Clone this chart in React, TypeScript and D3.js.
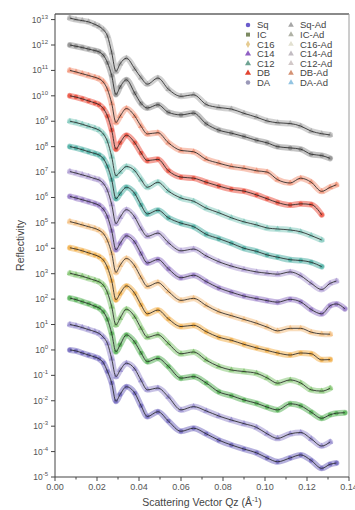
import React from 'react';
import * as d3 from 'd3';

// ---- data (log10 of reflectivity, curves offset for clarity) ----
const Q = [0.0071, 0.010, 0.013, 0.016, 0.019, 0.021, 0.023, 0.025, 0.027, 0.029, 0.031, 0.034, 0.038, 0.041, 0.044, 0.049, 0.054, 0.060, 0.066, 0.072, 0.078, 0.084, 0.090, 0.096, 0.101, 0.106, 0.112, 0.117, 0.122, 0.127, 0.131, 0.134, 0.138];

const Sq = [0, -0.04, -0.12, -0.2, -0.28, -0.35, -0.5, -0.85, -1.3, -2.02, -1.75, -1.45, -1.7, -2.2, -2.62, -2.43, -2.8, -3.2, -3.08, -3.3, -3.55, -3.74, -3.9, -4.05, -4.25, -4.4, -4.25, -4.13, -4.35, -4.66, -4.5, -4.45];
const SqAd = [1.0, 0.95, 0.88, 0.8, 0.72, 0.65, 0.5, 0.25, -0.35, -1.05, -0.8, -0.52, -0.75, -1.2, -1.57, -1.5, -1.85, -2.36, -2.23, -2.4, -2.6, -2.76, -2.9, -3.05, -3.3, -3.48, -3.3, -3.25, -3.5, -3.78, -3.62];
const IC = [2.04, 1.98, 1.9, 1.82, 1.72, 1.65, 1.5, 1.2, 0.65, -0.07, 0.2, 0.59, 0.3, -0.12, -0.46, -0.33, -0.65, -1.11, -1.05, -1.3, -1.65, -1.8, -1.97, -2.1, -2.25, -2.36, -2.12, -2.2, -2.45, -2.69, -2.55, -2.49, -2.47];
const ICAd = [3.02, 2.96, 2.9, 2.82, 2.74, 2.68, 2.55, 2.25, 1.7, 0.98, 1.25, 1.6, 1.3, 0.85, 0.5, 0.6, 0.25, -0.15, -0.08, -0.4, -0.65, -0.79, -0.85, -0.92, -1.1, -1.31, -1.18, -1.3, -1.57, -1.62, -1.51];
const C16 = [4.02, 3.97, 3.9, 3.82, 3.74, 3.67, 3.54, 3.24, 2.72, 1.97, 2.22, 2.52, 2.22, 1.77, 1.42, 1.57, 1.22, 0.92, 0.97, 0.72, 0.5, 0.38, 0.22, 0.08, -0.02, -0.12, -0.2, -0.12, -0.15, -0.39, -0.38];
const C16Ad = [5.05, 4.99, 4.92, 4.85, 4.78, 4.71, 4.58, 4.3, 3.8, 3.05, 3.33, 3.6, 3.3, 2.85, 2.5, 2.65, 2.3, 1.95, 2.03, 1.75, 1.5, 1.35, 1.2, 1.05, 0.9, 0.75, 0.85, 0.85, 0.7, 0.63, 0.62];
const C14 = [6.04, 5.98, 5.91, 5.84, 5.76, 5.69, 5.54, 5.24, 4.69, 3.94, 4.19, 4.49, 4.24, 3.79, 3.42, 3.56, 3.19, 2.84, 2.94, 2.69, 2.44, 2.27, 2.12, 2.02, 1.94, 1.88, 1.99, 1.89, 1.59, 1.42, 1.74, 1.81, 1.62];
const C14Ad = [7.02, 6.96, 6.89, 6.82, 6.74, 6.69, 6.55, 6.27, 5.72, 4.97, 5.22, 5.52, 5.22, 4.77, 4.47, 4.6, 4.22, 3.9, 3.97, 3.7, 3.47, 3.3, 3.17, 3.07, 3.02, 2.98, 3.07, 2.92, 2.62, 2.38, 2.62, 2.71];
const C12 = [8.0, 7.95, 7.88, 7.8, 7.73, 7.67, 7.53, 7.22, 6.7, 5.95, 6.15, 6.4, 6.15, 5.7, 5.35, 5.5, 5.2, 4.99, 4.85, 4.55, 4.38, 4.2, 4.0, 3.88, 3.74, 3.65, 3.55, 3.52, 3.45, 3.28];
const C12Ad = [9.0, 8.95, 8.88, 8.8, 8.72, 8.65, 8.5, 8.2, 7.6, 6.85, 7.0, 7.22, 7.05, 6.7, 6.4, 6.6, 6.25, 5.98, 5.85, 5.58, 5.4, 5.2, 5.04, 4.92, 4.8, 4.76, 4.72, 4.65, 4.5, 4.33];
const DB = [10.0, 9.95, 9.88, 9.8, 9.72, 9.65, 9.5, 9.2, 8.65, 7.9, 8.15, 8.45, 8.15, 7.75, 7.45, 7.5, 7.05, 6.8, 6.76, 6.6, 6.45, 6.32, 6.25, 6.1, 5.95, 5.8, 5.7, 5.75, 5.72, 5.32];
const DBAd = [11.0, 10.94, 10.87, 10.8, 10.73, 10.67, 10.54, 10.25, 9.7, 8.95, 9.2, 9.5, 9.2, 8.8, 8.5, 8.55, 8.15, 7.85, 7.8, 7.5, 7.35, 7.22, 7.15, 7.05, 7.0, 6.7, 6.57, 6.76, 6.6, 6.24, 6.4, 6.5];
const DA = [12.0, 11.95, 11.9, 11.84, 11.78, 11.73, 11.6, 11.3, 10.8, 10.05, 10.35, 10.63, 10.1, 9.7, 9.52, 9.65, 9.35, 9.25, 9.32, 8.9, 8.65, 8.53, 8.4, 8.25, 8.15, 8.0, 7.95, 7.9, 7.7, 7.65, 7.54];
const DAAd = [13.06, 13.0, 12.96, 12.91, 12.81, 12.73, 12.6, 12.35, 11.7, 10.96, 11.26, 11.48, 11.06, 10.71, 10.46, 10.7, 10.26, 9.98, 10.04, 9.66, 9.54, 9.48, 9.31, 9.16, 9.01, 8.94, 8.91, 8.81, 8.61, 8.51, 8.46];

const seriesNames = ['Sq', 'Sq-Ad', 'IC', 'IC-Ad', 'C16', 'C16-Ad', 'C14', 'C14-Ad', 'C12', 'C12-Ad', 'DB', 'DB-Ad', 'DA', 'DA-Ad'];
const seriesData = [Sq, SqAd, IC, ICAd, C16, C16Ad, C14, C14Ad, C12, C12Ad, DB, DBAd, DA, DAAd];
const curveColors = ['#5a50b4', '#8478c6', '#3aa53a', '#6fbd5a', '#f0a22c', '#f2b46a', '#8262bc', '#a08ccc', '#2fa294', '#6cc0b2', '#e8321e', '#f08262', '#7c7c7c', '#9a9a9a'];

const legendLeft = ['Sq', 'IC', 'C16', 'C14', 'C12', 'DB', 'DA'];
const legendRight = ['Sq-Ad', 'IC-Ad', 'C16-Ad', 'C14-Ad', 'C12-Ad', 'DB-Ad', 'DA-Ad'];
const legendLeftColors = ['#6a5ccc', '#7c8a62', '#e6cc92', '#9060c4', '#6ea392', '#e24430', '#9a98b8'];
const legendRightColors = ['#a6a6a6', '#b0b2a6', '#e2e0d0', '#c2bcc2', '#d2c8c8', '#d49274', '#92c4e2'];
const legendLeftSymbols = [d3.symbolCircle, d3.symbolSquare, d3.symbolDiamond, d3.symbolTriangle, d3.symbolTriangle, d3.symbolTriangle, d3.symbolCircle];

const yTickExps = [-5, -4, -3, -2, -1, 0, 1, 2, 3, 4, 5, 6, 7, 8, 9, 10, 11, 12, 13];
const xTicks = [0, 0.02, 0.04, 0.06, 0.08, 0.10, 0.12, 0.14];
const xMinorTicks = [0.01, 0.03, 0.05, 0.07, 0.09, 0.11, 0.13];

const W = 355;
const H = 510;
const PL = 55, PR = 349, PT = 14, PB = 477;
const FONT = '"Liberation Sans", Arial, sans-serif';

export default function App() {
  const x = d3.scaleLinear().domain([0, 0.14]).range([PL, PR]);
  const y = d3.scaleLog().domain([1e-5, Math.pow(10, 13.22)]).range([PB, PT]);

  const line = d3.line<number>()
    .x((_, i) => x(Q[i]))
    .y((v) => y(Math.pow(10, v)))
    .curve(d3.curveMonotoneX);

  const sym = d3.symbol();
  const legendStep = 9.6;
  const legendTop = 25;

  return (
    <svg width={W} height={H} style={{ position: 'absolute', left: 0, top: 0, background: '#fff' }} fontFamily={FONT}>
      <defs>
        <clipPath id="plotClip">
          <rect x={PL} y={PT} width={PR - PL} height={PB - PT} />
        </clipPath>
      </defs>

      {/* frame */}
      <line x1={PL} x2={PR} y1={PT} y2={PT} stroke="#8a8a8a" strokeWidth={1.8} />
      <line x1={PR} x2={PR} y1={PT} y2={PB} stroke="#9a9a9a" strokeWidth={1} />

      <g clipPath="url(#plotClip)">
        {/* measured bands */}
        {seriesData.map((d, k) => (
          <path key={'b' + k} d={line(d) || ''} fill="none" stroke={curveColors[k]} strokeWidth={6} strokeOpacity={0.45} strokeLinejoin="round" strokeLinecap="round" />
        ))}
        {seriesData.map((d, k) => (
          <g key={'m' + k} fill={curveColors[k]} fillOpacity={0.6}>
            {d.map((v, i) => (
              <path key={i} transform={`translate(${x(Q[i])},${y(Math.pow(10, v))})`} d={sym.type(k % 2 === 0 ? d3.symbolCircle : d3.symbolTriangle).size(16)() || ''} />
            ))}
          </g>
        ))}
        {/* fits */}
        {seriesData.map((d, k) => (
          <path key={'f' + k} d={line(d) || ''} fill="none" stroke="#222" strokeWidth={0.9} strokeOpacity={0.9} />
        ))}
      </g>

      {/* y axis */}
      <line x1={PL} x2={PL} y1={PT} y2={PB} stroke="#444" strokeWidth={1} />
      {yTickExps.map((e) => {
        const yy = y(Math.pow(10, e));
        return (
          <g key={'yt' + e}>
            <line x1={PL - 4} x2={PL} y1={yy} y2={yy} stroke="#444" strokeWidth={1} />
            <text x={PL - 7} y={yy + 3} textAnchor="end" fontSize={8.5} fill="#555">
              <tspan>10</tspan>
              <tspan dy={-4} fontSize={6}>{e}</tspan>
            </text>
          </g>
        );
      })}

      {/* x axis */}
      <line x1={PL} x2={PR} y1={PB} y2={PB} stroke="#444" strokeWidth={1} />
      {xTicks.map((t) => (
        <g key={'xt' + t}>
          <line x1={x(t)} x2={x(t)} y1={PB} y2={PB + 4} stroke="#444" strokeWidth={1} />
          <text x={x(t)} y={PB + 13} textAnchor="middle" fontSize={9} fill="#555">{t.toFixed(2)}</text>
        </g>
      ))}
      {xMinorTicks.map((t) => (
        <line key={'xm' + t} x1={x(t)} x2={x(t)} y1={PB} y2={PB + 2.5} stroke="#444" strokeWidth={1} />
      ))}

      {/* axis titles */}
      <text x={(PL + PR) / 2} y={506} textAnchor="middle" fontSize={10.5} fill="#444">
        <tspan>Scattering Vector Qz (Å</tspan>
        <tspan dy={-4} fontSize={7}>-1</tspan>
        <tspan dy={4}>)</tspan>
      </text>
      <text transform={`translate(24,${(PT + PB) / 2}) rotate(-90)`} textAnchor="middle" fontSize={10.5} fill="#444">Reflectivity</text>

      {/* legend */}
      {legendLeft.map((name, i) => {
        const ly = legendTop + i * legendStep;
        return (
          <g key={'ll' + i}>
            <path transform={`translate(248,${ly})`} d={sym.type(legendLeftSymbols[i]).size(16)() || ''} fill={legendLeftColors[i]} />
            <text x={257} y={ly + 3.3} fontSize={9.5} fill="#444">{name}</text>
          </g>
        );
      })}
      {legendRight.map((name, i) => {
        const ly = legendTop + i * legendStep;
        return (
          <g key={'lr' + i}>
            <path transform={`translate(291,${ly})`} d={sym.type(d3.symbolTriangle).size(14)() || ''} fill={legendRightColors[i]} />
            <text x={300} y={ly + 3.3} fontSize={9.5} fill="#444">{name}</text>
          </g>
        );
      })}
    </svg>
  );
}
